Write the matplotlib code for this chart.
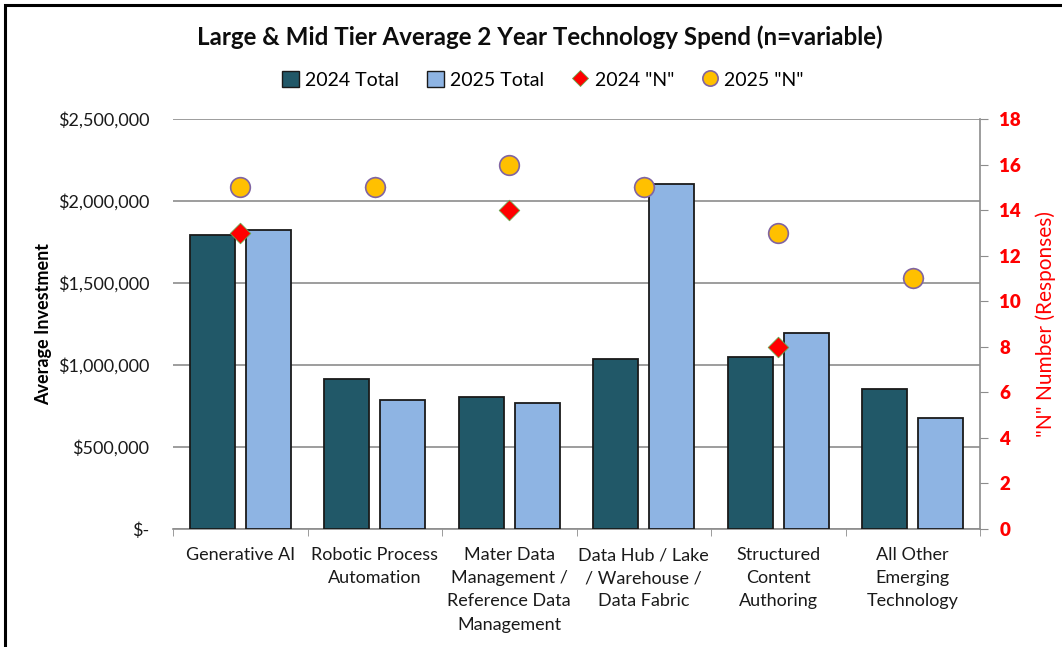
import matplotlib
matplotlib.use("Agg")
import matplotlib.pyplot as plt
import numpy as np
from matplotlib.patches import Rectangle
from matplotlib.lines import Line2D
from matplotlib.ticker import FuncFormatter
from matplotlib.font_manager import FontProperties

plt.rcParams['font.family'] = ['Lato', 'DejaVu Sans']

categories = ['Generative AI', 'Robotic Process\nAutomation',
              'Mater Data\nManagement /\nReference Data\nManagement',
              'Data Hub / Lake\n/ Warehouse /\nData Fabric',
              'Structured\nContent\nAuthoring', 'All Other\nEmerging\nTechnology']
total_2024 = [1795000, 913000, 805000, 1035000, 1050000, 854000]
total_2025 = [1821000, 787000, 766000, 2102000, 1195000, 675000]
n_2024 = [13, 15, 14, 15, 8, 11]
n_2025 = [15, 15, 16, 15, 13, 11]
n_ticks = list(range(0, 19, 2))

dark = '#215868'
light = '#8EB4E3'
grid_gray = '#8C8C8C'

fig = plt.figure(figsize=(10.62, 6.47), dpi=100)
ax = fig.add_axes([173/1062, 1 - 529/647, (980 - 173)/1062, (529 - 119)/647])

x = np.arange(len(categories))
width = 0.335
ax.bar(x - 0.208, total_2024, width, color=dark, edgecolor='#1a1a1a', linewidth=1.3,
       label='2024 Total', zorder=3)
ax.bar(x + 0.208, total_2025, width, color=light, edgecolor='#1a1a1a', linewidth=1.3,
       label='2025 Total', zorder=3)

ax.set_xlim(-0.5, len(categories) - 0.5)
ax.set_ylim(0, 2500000)
ax.set_yticks(np.arange(0, 2500001, 500000))


def dollars(v, pos):
    return '$-' if v == 0 else '${:,.0f}'.format(v)


ax.yaxis.set_major_formatter(FuncFormatter(dollars))
ax.yaxis.grid(True, color=grid_gray, linewidth=1.2, zorder=0)
ax.tick_params(axis='y', length=0, pad=17, labelsize=13, colors='#1a1a1a')
ax.set_ylabel('Average Investment', fontsize=13, fontweight='bold', labelpad=4)

ax.set_xticks(x)
ax.set_xticklabels(categories, fontsize=13, linespacing=1.55, color='#1a1a1a')
ax.set_xticks(np.arange(-0.5, len(categories)), minor=True)
ax.tick_params(axis='x', which='major', length=0, pad=13)
ax.tick_params(axis='x', which='minor', length=5, color=grid_gray, direction='out')

for side in ['top', 'left', 'right']:
    ax.spines[side].set_visible(False)
ax.spines['bottom'].set_color(grid_gray)
ax.spines['bottom'].set_linewidth(1.2)

# right axis for the response counts
ax2 = ax.twinx()
ax2.set_ylim(0, 18)
ax2.scatter(x, n_2024, marker='D', s=110, color='#FF0000', edgecolor='#6AA84F',
            linewidth=0.6, zorder=4, label='2024 "N"')
ax2.scatter(x, n_2025, marker='o', s=200, color='#FFC000', edgecolor='#8064A2',
            linewidth=1.2, zorder=5, label='2025 "N"')
for side in ['top', 'left', 'bottom']:
    ax2.spines[side].set_visible(False)
ax2.spines['right'].set_color(grid_gray)
ax2.spines['right'].set_linewidth(1.2)
ax2.tick_params(axis='y', length=6, color=grid_gray, pad=8)
bold_red = FontProperties(family='Lato', weight='heavy', size=13.5)
ax2.set_yticks(n_ticks)
ax2.set_yticklabels([str(t) for t in n_ticks], fontproperties=bold_red, color='#FF0000')
ax2.set_ylabel('"N" Number (Responses)', fontsize=15, color='#FF0000', labelpad=10)

fig.text(540/1062, 1 - 37/647, 'Large & Mid Tier Average 2 Year Technology Spend (n=variable)',
         ha='center', va='center', fontsize=17.4, fontweight='bold', color='#0d0d0d')

handles = [
    Rectangle((0, 0), 1, 1, facecolor=dark, edgecolor='#1a1a1a', linewidth=1),
    Rectangle((0, 0), 1, 1, facecolor=light, edgecolor='#1a1a1a', linewidth=1),
    Line2D([], [], marker='D', linestyle='none', markersize=8, markerfacecolor='#FF0000',
           markeredgecolor='#6AA84F', markeredgewidth=0.6),
    Line2D([], [], marker='o', linestyle='none', markersize=11, markerfacecolor='#FFC000',
           markeredgecolor='#8064A2', markeredgewidth=1.2),
]
fig.legend(handles, ['2024 Total', '2025 Total', '2024 "N"', '2025 "N"'],
           loc='center', bbox_to_anchor=(543/1062, 1 - 80/647), ncol=4, frameon=False,
           fontsize=14, handlelength=0.9, handleheight=0.9, handletextpad=0.3,
           columnspacing=1.4)

# outer frame
fig.patches.append(Rectangle((5/1062, -0.1), 1.2, 1 - 5/647 + 0.1, transform=fig.transFigure,
                             fill=False, edgecolor='black', linewidth=2.2))

fig.savefig('out.png', dpi=100)
